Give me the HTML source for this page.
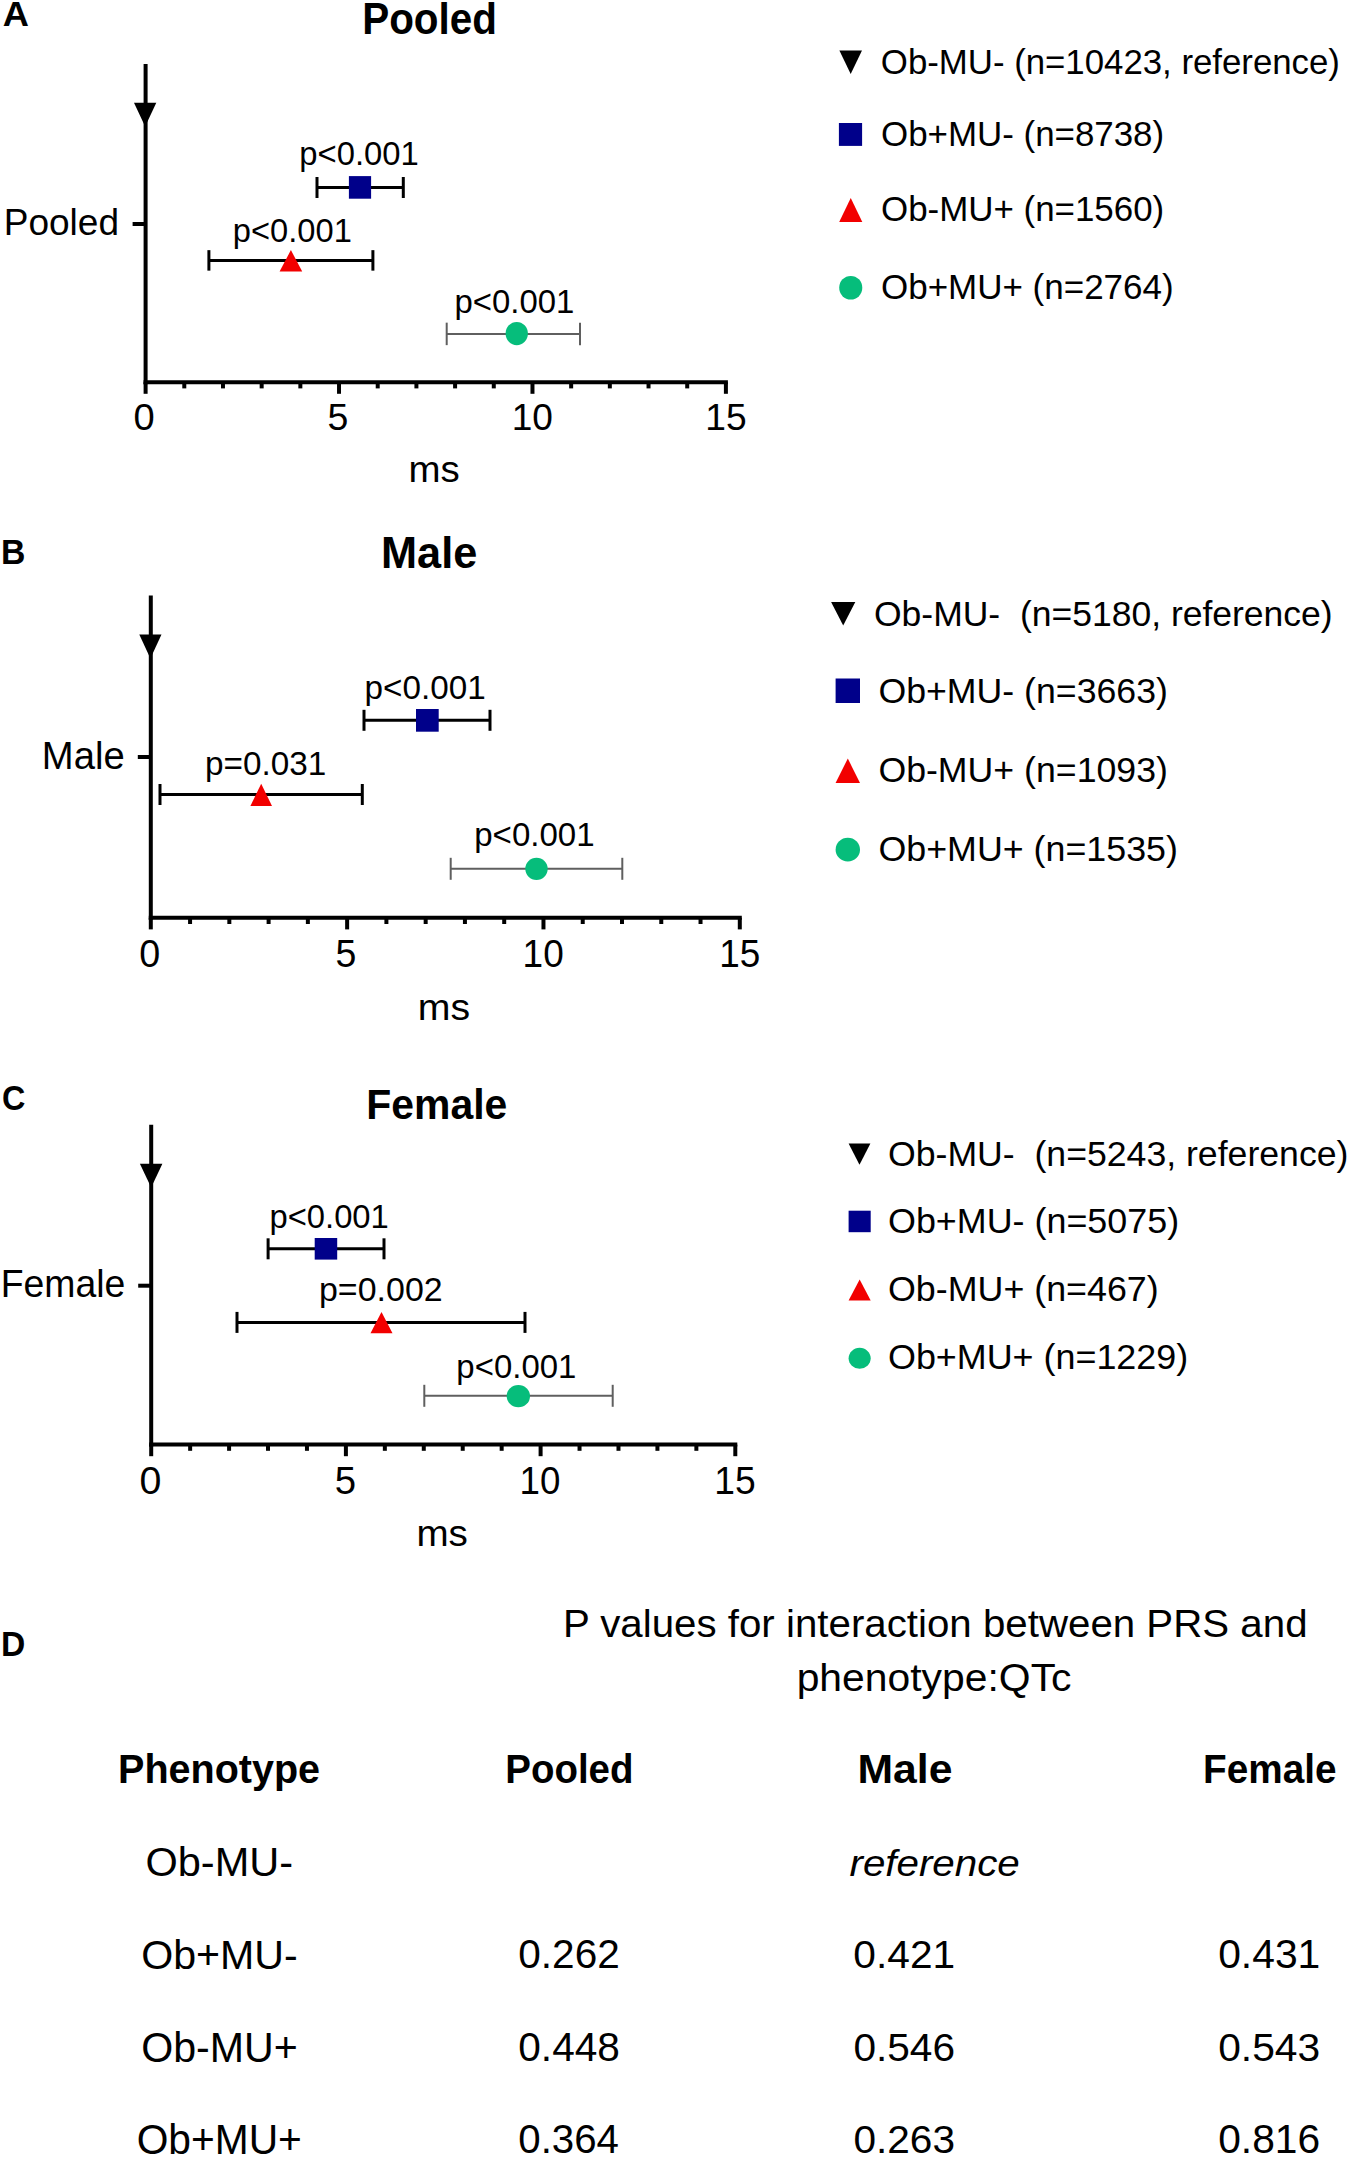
<!DOCTYPE html>
<html><head><meta charset="utf-8"><style>
html,body{margin:0;padding:0;background:#fff;}
svg{display:block;}
text{font-family:"Liberation Sans",sans-serif;}
</style></head><body>
<svg width="1350" height="2161" viewBox="0 0 1350 2161">
<rect x="0" y="0" width="1350" height="2161" fill="#fff"/>
<text transform="translate(2.69,25.80) scale(1.0214,1)" font-size="35.51" style="font-weight:700" fill="#000" xml:space="preserve">A</text>
<text transform="translate(362.17,33.80) scale(0.9239,1)" font-size="43.77" style="font-weight:700" fill="#000" xml:space="preserve">Pooled</text>
<text transform="translate(3.74,235.10) scale(0.9829,1)" font-size="37.68" style="font-weight:400" fill="#000" xml:space="preserve">Pooled</text>
<line x1="145.60" y1="64.00" x2="145.60" y2="384.20" stroke="#000" stroke-width="4"/>
<line x1="143.60" y1="382.20" x2="727.90" y2="382.20" stroke="#000" stroke-width="4"/>
<line x1="145.60" y1="382.20" x2="145.60" y2="393.80" stroke="#000" stroke-width="4"/>
<line x1="184.29" y1="382.20" x2="184.29" y2="388.40" stroke="#000" stroke-width="4"/>
<line x1="222.97" y1="382.20" x2="222.97" y2="388.40" stroke="#000" stroke-width="4"/>
<line x1="261.66" y1="382.20" x2="261.66" y2="388.40" stroke="#000" stroke-width="4"/>
<line x1="300.35" y1="382.20" x2="300.35" y2="388.40" stroke="#000" stroke-width="4"/>
<line x1="339.03" y1="382.20" x2="339.03" y2="393.80" stroke="#000" stroke-width="4"/>
<line x1="377.72" y1="382.20" x2="377.72" y2="388.40" stroke="#000" stroke-width="4"/>
<line x1="416.41" y1="382.20" x2="416.41" y2="388.40" stroke="#000" stroke-width="4"/>
<line x1="455.09" y1="382.20" x2="455.09" y2="388.40" stroke="#000" stroke-width="4"/>
<line x1="493.78" y1="382.20" x2="493.78" y2="388.40" stroke="#000" stroke-width="4"/>
<line x1="532.47" y1="382.20" x2="532.47" y2="393.80" stroke="#000" stroke-width="4"/>
<line x1="571.15" y1="382.20" x2="571.15" y2="388.40" stroke="#000" stroke-width="4"/>
<line x1="609.84" y1="382.20" x2="609.84" y2="388.40" stroke="#000" stroke-width="4"/>
<line x1="648.53" y1="382.20" x2="648.53" y2="388.40" stroke="#000" stroke-width="4"/>
<line x1="687.21" y1="382.20" x2="687.21" y2="388.40" stroke="#000" stroke-width="4"/>
<line x1="725.90" y1="382.20" x2="725.90" y2="393.80" stroke="#000" stroke-width="4"/>
<line x1="132.60" y1="224.00" x2="145.60" y2="224.00" stroke="#000" stroke-width="4"/>
<polygon points="134.00,102.80 156.30,102.80 145.15,126.50" fill="#000"/>
<line x1="317.00" y1="187.50" x2="403.30" y2="187.50" stroke="#000" stroke-width="3"/>
<line x1="317.00" y1="177.00" x2="317.00" y2="198.00" stroke="#000" stroke-width="3"/>
<line x1="403.30" y1="177.00" x2="403.30" y2="198.00" stroke="#000" stroke-width="3"/>
<rect x="348.90" y="176.10" width="22.20" height="22.60" fill="#00008a"/>
<text transform="translate(299.27,164.77) scale(0.9836,1)" font-size="33.38" style="font-weight:400" fill="#000" xml:space="preserve">p&lt;0.001</text>
<line x1="208.90" y1="260.40" x2="372.90" y2="260.40" stroke="#000" stroke-width="3"/>
<line x1="208.90" y1="250.15" x2="208.90" y2="270.65" stroke="#000" stroke-width="3"/>
<line x1="372.90" y1="250.15" x2="372.90" y2="270.65" stroke="#000" stroke-width="3"/>
<polygon points="290.90,250.00 302.20,271.60 279.60,271.60" fill="#f20000"/>
<text transform="translate(232.78,241.97) scale(0.9835,1)" font-size="33.24" style="font-weight:400" fill="#000" xml:space="preserve">p&lt;0.001</text>
<line x1="446.70" y1="333.90" x2="580.00" y2="333.90" stroke="#5f5f5f" stroke-width="2"/>
<line x1="446.70" y1="322.65" x2="446.70" y2="345.15" stroke="#5f5f5f" stroke-width="2"/>
<line x1="580.00" y1="322.65" x2="580.00" y2="345.15" stroke="#5f5f5f" stroke-width="2"/>
<ellipse cx="516.75" cy="333.55" rx="11.15" ry="11.65" fill="#06bd7b"/>
<text transform="translate(454.46,312.67) scale(0.9903,1)" font-size="33.24" style="font-weight:400" fill="#000" xml:space="preserve">p&lt;0.001</text>
<text transform="translate(133.47,430.02) scale(1.0100,1)" font-size="37.75" style="font-weight:400" fill="#000" xml:space="preserve">0</text>
<text transform="translate(327.40,430.02) scale(0.9928,1)" font-size="37.75" style="font-weight:400" fill="#000" xml:space="preserve">5</text>
<text transform="translate(511.72,430.02) scale(0.9829,1)" font-size="37.75" style="font-weight:400" fill="#000" xml:space="preserve">10</text>
<text transform="translate(705.31,430.02) scale(0.9851,1)" font-size="37.75" style="font-weight:400" fill="#000" xml:space="preserve">15</text>
<text transform="translate(408.60,482.43) scale(1.0524,1)" font-size="36.55" style="font-weight:400" fill="#000" xml:space="preserve">ms</text>
<polygon points="839.40,50.40 862.00,50.40 850.70,74.00" fill="#000"/>
<text transform="translate(880.83,73.70) scale(0.9839,1)" font-size="35.36" style="font-weight:400" fill="#000" xml:space="preserve">Ob-MU- (n=10423, reference)</text>
<rect x="838.90" y="123.00" width="23.20" height="22.90" fill="#00008a"/>
<text transform="translate(881.03,145.60) scale(1.0035,1)" font-size="34.78" style="font-weight:400" fill="#000" xml:space="preserve">Ob+MU- (n=8738)</text>
<polygon points="850.75,198.10 862.30,221.90 839.20,221.90" fill="#f20000"/>
<text transform="translate(881.03,220.80) scale(0.9993,1)" font-size="34.93" style="font-weight:400" fill="#000" xml:space="preserve">Ob-MU+ (n=1560)</text>
<ellipse cx="850.75" cy="287.75" rx="11.55" ry="11.85" fill="#06bd7b"/>
<text transform="translate(881.03,298.90) scale(0.9894,1)" font-size="35.36" style="font-weight:400" fill="#000" xml:space="preserve">Ob+MU+ (n=2764)</text>
<text transform="translate(1.10,564.30) scale(0.9550,1)" font-size="35.36" style="font-weight:700" fill="#000" xml:space="preserve">B</text>
<text transform="translate(380.99,568.40) scale(0.9796,1)" font-size="44.20" style="font-weight:700" fill="#000" xml:space="preserve">Male</text>
<text transform="translate(41.84,768.90) scale(0.9993,1)" font-size="38.26" style="font-weight:400" fill="#000" xml:space="preserve">Male</text>
<line x1="150.80" y1="595.60" x2="150.80" y2="919.80" stroke="#000" stroke-width="4"/>
<line x1="148.80" y1="917.80" x2="741.80" y2="917.80" stroke="#000" stroke-width="4"/>
<line x1="150.80" y1="917.80" x2="150.80" y2="929.40" stroke="#000" stroke-width="4"/>
<line x1="190.07" y1="917.80" x2="190.07" y2="924.00" stroke="#000" stroke-width="4"/>
<line x1="229.33" y1="917.80" x2="229.33" y2="924.00" stroke="#000" stroke-width="4"/>
<line x1="268.60" y1="917.80" x2="268.60" y2="924.00" stroke="#000" stroke-width="4"/>
<line x1="307.87" y1="917.80" x2="307.87" y2="924.00" stroke="#000" stroke-width="4"/>
<line x1="347.13" y1="917.80" x2="347.13" y2="929.40" stroke="#000" stroke-width="4"/>
<line x1="386.40" y1="917.80" x2="386.40" y2="924.00" stroke="#000" stroke-width="4"/>
<line x1="425.67" y1="917.80" x2="425.67" y2="924.00" stroke="#000" stroke-width="4"/>
<line x1="464.93" y1="917.80" x2="464.93" y2="924.00" stroke="#000" stroke-width="4"/>
<line x1="504.20" y1="917.80" x2="504.20" y2="924.00" stroke="#000" stroke-width="4"/>
<line x1="543.47" y1="917.80" x2="543.47" y2="929.40" stroke="#000" stroke-width="4"/>
<line x1="582.73" y1="917.80" x2="582.73" y2="924.00" stroke="#000" stroke-width="4"/>
<line x1="622.00" y1="917.80" x2="622.00" y2="924.00" stroke="#000" stroke-width="4"/>
<line x1="661.27" y1="917.80" x2="661.27" y2="924.00" stroke="#000" stroke-width="4"/>
<line x1="700.53" y1="917.80" x2="700.53" y2="924.00" stroke="#000" stroke-width="4"/>
<line x1="739.80" y1="917.80" x2="739.80" y2="929.40" stroke="#000" stroke-width="4"/>
<line x1="137.80" y1="757.00" x2="150.80" y2="757.00" stroke="#000" stroke-width="4"/>
<polygon points="139.30,634.50 161.50,634.50 150.40,658.50" fill="#000"/>
<line x1="364.00" y1="720.30" x2="490.00" y2="720.30" stroke="#000" stroke-width="3"/>
<line x1="364.00" y1="709.80" x2="364.00" y2="730.80" stroke="#000" stroke-width="3"/>
<line x1="490.00" y1="709.80" x2="490.00" y2="730.80" stroke="#000" stroke-width="3"/>
<rect x="416.00" y="709.00" width="22.70" height="22.70" fill="#00008a"/>
<text transform="translate(364.44,698.56) scale(0.9930,1)" font-size="33.52" style="font-weight:400" fill="#000" xml:space="preserve">p&lt;0.001</text>
<line x1="160.00" y1="794.50" x2="362.30" y2="794.50" stroke="#000" stroke-width="3"/>
<line x1="160.00" y1="784.00" x2="160.00" y2="805.00" stroke="#000" stroke-width="3"/>
<line x1="362.30" y1="784.00" x2="362.30" y2="805.00" stroke="#000" stroke-width="3"/>
<polygon points="261.20,783.70 272.00,805.90 250.40,805.90" fill="#f20000"/>
<text transform="translate(205.03,774.56) scale(0.9856,1)" font-size="33.80" style="font-weight:400" fill="#000" xml:space="preserve">p=0.031</text>
<line x1="450.70" y1="868.80" x2="622.30" y2="868.80" stroke="#5f5f5f" stroke-width="2"/>
<line x1="450.70" y1="857.80" x2="450.70" y2="879.80" stroke="#5f5f5f" stroke-width="2"/>
<line x1="622.30" y1="857.80" x2="622.30" y2="879.80" stroke="#5f5f5f" stroke-width="2"/>
<ellipse cx="536.50" cy="868.85" rx="11.20" ry="11.15" fill="#06bd7b"/>
<text transform="translate(474.25,845.56) scale(0.9862,1)" font-size="33.52" style="font-weight:400" fill="#000" xml:space="preserve">p&lt;0.001</text>
<text transform="translate(139.19,966.72) scale(0.9807,1)" font-size="38.45" style="font-weight:400" fill="#000" xml:space="preserve">0</text>
<text transform="translate(335.60,966.72) scale(0.9746,1)" font-size="38.45" style="font-weight:400" fill="#000" xml:space="preserve">5</text>
<text transform="translate(522.62,966.72) scale(0.9623,1)" font-size="38.45" style="font-weight:400" fill="#000" xml:space="preserve">10</text>
<text transform="translate(719.13,966.72) scale(0.9593,1)" font-size="38.45" style="font-weight:400" fill="#000" xml:space="preserve">15</text>
<text transform="translate(417.85,1019.93) scale(1.0588,1)" font-size="37.09" style="font-weight:400" fill="#000" xml:space="preserve">ms</text>
<polygon points="831.10,601.90 855.30,601.90 843.20,625.60" fill="#000"/>
<text transform="translate(874.00,625.60) scale(0.9918,1)" font-size="35.80" style="font-weight:400" fill="#000" xml:space="preserve">Ob-MU-  (n=5180, reference)</text>
<rect x="835.60" y="678.50" width="24.40" height="24.50" fill="#00008a"/>
<text transform="translate(878.39,702.70) scale(0.9970,1)" font-size="35.80" style="font-weight:400" fill="#000" xml:space="preserve">Ob+MU- (n=3663)</text>
<polygon points="847.80,758.50 860.00,783.00 835.60,783.00" fill="#f20000"/>
<text transform="translate(878.39,782.20) scale(0.9970,1)" font-size="35.80" style="font-weight:400" fill="#000" xml:space="preserve">Ob-MU+ (n=1093)</text>
<ellipse cx="847.80" cy="849.65" rx="12.20" ry="11.85" fill="#06bd7b"/>
<text transform="translate(878.39,861.20) scale(1.0007,1)" font-size="35.80" style="font-weight:400" fill="#000" xml:space="preserve">Ob+MU+ (n=1535)</text>
<text transform="translate(2.11,1110.05) scale(0.9119,1)" font-size="35.49" style="font-weight:700" fill="#000" xml:space="preserve">C</text>
<text transform="translate(366.34,1119.10) scale(0.9438,1)" font-size="43.33" style="font-weight:700" fill="#000" xml:space="preserve">Female</text>
<text transform="translate(0.71,1296.90) scale(0.9771,1)" font-size="38.26" style="font-weight:400" fill="#000" xml:space="preserve">Female</text>
<line x1="151.20" y1="1124.80" x2="151.20" y2="1446.60" stroke="#000" stroke-width="4"/>
<line x1="149.20" y1="1444.60" x2="737.30" y2="1444.60" stroke="#000" stroke-width="4"/>
<line x1="151.20" y1="1444.60" x2="151.20" y2="1456.20" stroke="#000" stroke-width="4"/>
<line x1="190.14" y1="1444.60" x2="190.14" y2="1450.80" stroke="#000" stroke-width="4"/>
<line x1="229.08" y1="1444.60" x2="229.08" y2="1450.80" stroke="#000" stroke-width="4"/>
<line x1="268.02" y1="1444.60" x2="268.02" y2="1450.80" stroke="#000" stroke-width="4"/>
<line x1="306.96" y1="1444.60" x2="306.96" y2="1450.80" stroke="#000" stroke-width="4"/>
<line x1="345.90" y1="1444.60" x2="345.90" y2="1456.20" stroke="#000" stroke-width="4"/>
<line x1="384.84" y1="1444.60" x2="384.84" y2="1450.80" stroke="#000" stroke-width="4"/>
<line x1="423.78" y1="1444.60" x2="423.78" y2="1450.80" stroke="#000" stroke-width="4"/>
<line x1="462.72" y1="1444.60" x2="462.72" y2="1450.80" stroke="#000" stroke-width="4"/>
<line x1="501.66" y1="1444.60" x2="501.66" y2="1450.80" stroke="#000" stroke-width="4"/>
<line x1="540.60" y1="1444.60" x2="540.60" y2="1456.20" stroke="#000" stroke-width="4"/>
<line x1="579.54" y1="1444.60" x2="579.54" y2="1450.80" stroke="#000" stroke-width="4"/>
<line x1="618.48" y1="1444.60" x2="618.48" y2="1450.80" stroke="#000" stroke-width="4"/>
<line x1="657.42" y1="1444.60" x2="657.42" y2="1450.80" stroke="#000" stroke-width="4"/>
<line x1="696.36" y1="1444.60" x2="696.36" y2="1450.80" stroke="#000" stroke-width="4"/>
<line x1="735.30" y1="1444.60" x2="735.30" y2="1456.20" stroke="#000" stroke-width="4"/>
<line x1="138.20" y1="1285.70" x2="151.20" y2="1285.70" stroke="#000" stroke-width="4"/>
<polygon points="139.90,1163.80 162.40,1163.80 151.15,1187.50" fill="#000"/>
<line x1="268.10" y1="1248.80" x2="384.00" y2="1248.80" stroke="#000" stroke-width="3"/>
<line x1="268.10" y1="1238.30" x2="268.10" y2="1259.30" stroke="#000" stroke-width="3"/>
<line x1="384.00" y1="1238.30" x2="384.00" y2="1259.30" stroke="#000" stroke-width="3"/>
<rect x="314.70" y="1238.00" width="22.50" height="21.60" fill="#00008a"/>
<text transform="translate(269.47,1228.27) scale(0.9903,1)" font-size="33.10" style="font-weight:400" fill="#000" xml:space="preserve">p&lt;0.001</text>
<line x1="237.00" y1="1322.40" x2="525.00" y2="1322.40" stroke="#000" stroke-width="3"/>
<line x1="237.00" y1="1311.90" x2="237.00" y2="1332.90" stroke="#000" stroke-width="3"/>
<line x1="525.00" y1="1311.90" x2="525.00" y2="1332.90" stroke="#000" stroke-width="3"/>
<polygon points="381.50,1311.90 392.50,1333.20 370.50,1333.20" fill="#f20000"/>
<text transform="translate(318.99,1301.26) scale(1.0088,1)" font-size="33.66" style="font-weight:400" fill="#000" xml:space="preserve">p=0.002</text>
<line x1="424.30" y1="1395.80" x2="612.70" y2="1395.80" stroke="#5f5f5f" stroke-width="2"/>
<line x1="424.30" y1="1384.80" x2="424.30" y2="1406.80" stroke="#5f5f5f" stroke-width="2"/>
<line x1="612.70" y1="1384.80" x2="612.70" y2="1406.80" stroke="#5f5f5f" stroke-width="2"/>
<ellipse cx="518.35" cy="1396.15" rx="11.65" ry="11.15" fill="#06bd7b"/>
<text transform="translate(456.36,1377.97) scale(0.9912,1)" font-size="33.24" style="font-weight:400" fill="#000" xml:space="preserve">p&lt;0.001</text>
<text transform="translate(139.43,1493.52) scale(1.0316,1)" font-size="38.17" style="font-weight:400" fill="#000" xml:space="preserve">0</text>
<text transform="translate(334.67,1493.52) scale(1.0038,1)" font-size="38.17" style="font-weight:400" fill="#000" xml:space="preserve">5</text>
<text transform="translate(519.55,1493.52) scale(0.9615,1)" font-size="38.17" style="font-weight:400" fill="#000" xml:space="preserve">10</text>
<text transform="translate(714.21,1493.52) scale(0.9742,1)" font-size="38.17" style="font-weight:400" fill="#000" xml:space="preserve">15</text>
<text transform="translate(416.39,1546.03) scale(1.0362,1)" font-size="37.27" style="font-weight:400" fill="#000" xml:space="preserve">ms</text>
<polygon points="848.60,1143.60 870.40,1143.60 859.50,1164.80" fill="#000"/>
<text transform="translate(888.00,1165.60) scale(1.0037,1)" font-size="35.51" style="font-weight:400" fill="#000" xml:space="preserve">Ob-MU-  (n=5243, reference)</text>
<rect x="848.60" y="1210.70" width="22.10" height="21.50" fill="#00008a"/>
<text transform="translate(887.98,1233.00) scale(1.0108,1)" font-size="35.51" style="font-weight:400" fill="#000" xml:space="preserve">Ob+MU- (n=5075)</text>
<polygon points="859.65,1279.60 870.70,1300.40 848.60,1300.40" fill="#f20000"/>
<text transform="translate(887.99,1301.10) scale(1.0008,1)" font-size="35.80" style="font-weight:400" fill="#000" xml:space="preserve">Ob-MU+ (n=467)</text>
<ellipse cx="859.65" cy="1358.30" rx="11.05" ry="10.50" fill="#06bd7b"/>
<text transform="translate(887.98,1369.30) scale(1.0109,1)" font-size="35.51" style="font-weight:400" fill="#000" xml:space="preserve">Ob+MU+ (n=1229)</text>
<text transform="translate(1.11,1655.70) scale(0.9479,1)" font-size="35.51" style="font-weight:700" fill="#000" xml:space="preserve">D</text>
<text transform="translate(562.88,1636.80) scale(1.0409,1)" font-size="38.70" style="font-weight:400" fill="#000" xml:space="preserve">P values for interaction between PRS and</text>
<text transform="translate(796.64,1691.10) scale(1.0327,1)" font-size="39.57" style="font-weight:400" fill="#000" xml:space="preserve">phenotype:QTc</text>
<text transform="translate(118.03,1783.00) scale(0.9916,1)" font-size="39.86" style="font-weight:700" fill="#000" xml:space="preserve">Phenotype</text>
<text transform="translate(505.30,1783.00) scale(0.9653,1)" font-size="39.86" style="font-weight:700" fill="#000" xml:space="preserve">Pooled</text>
<text transform="translate(857.53,1783.00) scale(1.0711,1)" font-size="39.86" style="font-weight:700" fill="#000" xml:space="preserve">Male</text>
<text transform="translate(1203.08,1783.00) scale(0.9721,1)" font-size="39.86" style="font-weight:700" fill="#000" xml:space="preserve">Female</text>
<text transform="translate(145.43,1875.80) scale(1.0345,1)" font-size="40.14" style="font-weight:400" fill="#000" xml:space="preserve">Ob-MU-</text>
<text transform="translate(849.49,1875.94) scale(1.1092,1)" font-size="36.36" style="font-style:italic" fill="#000" xml:space="preserve">reference</text>
<text transform="translate(141.15,1968.60) scale(1.0172,1)" font-size="40.43" style="font-weight:400" fill="#000" xml:space="preserve">Ob+MU-</text>
<text transform="translate(518.28,1968.10) scale(1.0145,1)" font-size="40.00" style="font-weight:400" fill="#000" xml:space="preserve">0.262</text>
<text transform="translate(853.37,1968.20) scale(1.0248,1)" font-size="39.72" style="font-weight:400" fill="#000" xml:space="preserve">0.421</text>
<text transform="translate(1218.17,1968.20) scale(1.0279,1)" font-size="39.72" style="font-weight:400" fill="#000" xml:space="preserve">0.431</text>
<text transform="translate(141.15,2061.50) scale(0.9820,1)" font-size="41.88" style="font-weight:400" fill="#000" xml:space="preserve">Ob-MU+</text>
<text transform="translate(518.28,2060.99) scale(1.0014,1)" font-size="40.56" style="font-weight:400" fill="#000" xml:space="preserve">0.448</text>
<text transform="translate(853.38,2060.60) scale(1.0263,1)" font-size="39.58" style="font-weight:400" fill="#000" xml:space="preserve">0.546</text>
<text transform="translate(1218.17,2060.60) scale(1.0295,1)" font-size="39.58" style="font-weight:400" fill="#000" xml:space="preserve">0.543</text>
<text transform="translate(136.67,2154.10) scale(0.9725,1)" font-size="41.88" style="font-weight:400" fill="#000" xml:space="preserve">Ob+MU+</text>
<text transform="translate(518.29,2153.20) scale(1.0062,1)" font-size="40.00" style="font-weight:400" fill="#000" xml:space="preserve">0.364</text>
<text transform="translate(853.38,2153.10) scale(1.0227,1)" font-size="39.72" style="font-weight:400" fill="#000" xml:space="preserve">0.263</text>
<text transform="translate(1218.17,2153.10) scale(1.0258,1)" font-size="39.72" style="font-weight:400" fill="#000" xml:space="preserve">0.816</text>
</svg>
</body></html>
